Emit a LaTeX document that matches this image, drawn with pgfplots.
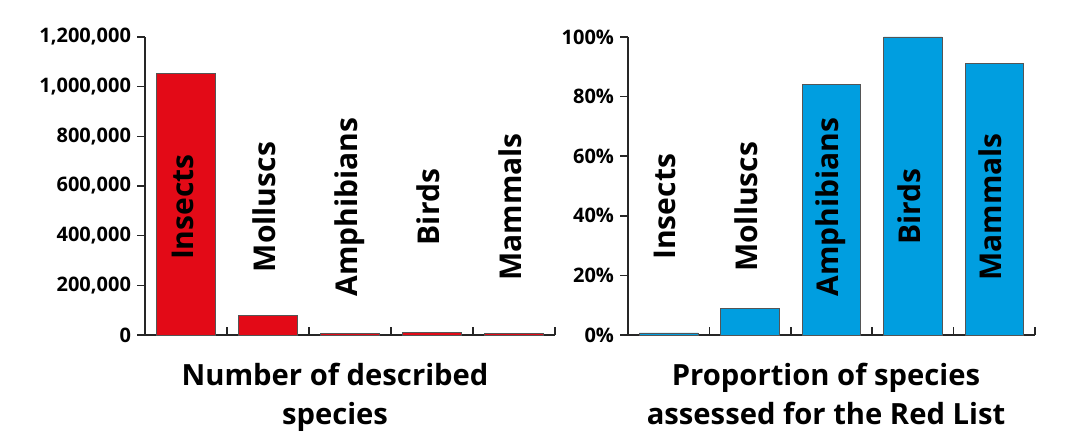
\documentclass[border=0pt]{standalone}
\usepackage{fontspec}
\setmainfont{Open Sans}
\usepackage{pgfplots}
\pgfplotsset{compat=1.18}
\definecolor{redc}{HTML}{E30A17}
\definecolor{bluec}{HTML}{009EE0}
\definecolor{edgec}{HTML}{555555}
\tikzset{
  catlab/.style={rotate=90, font=\bfseries\fontsize{15}{18}\selectfont, text height=0.72em, text depth=0pt, inner sep=0pt},
  ttl/.style={anchor=base, font=\bfseries\fontsize{14.6}{16}\selectfont, inner sep=0pt},
}
\pgfplotsset{
  mybar/.style={
    scale only axis,
    height=149pt,
    ymin=0,
    xmin=-0.5, xmax=4.5,
    axis lines=left,
    axis line style={-, line width=0.8pt, color=black!85},
    xtick={0.5,1.5,2.5,3.5,4.5},
    xticklabels={},
    xtick align=inside,
    ytick align=outside,
    major tick length=4pt,
    tick style={line width=0.8pt, color=black!85},
    ticklabel style={font=\bfseries\fontsize{10}{12}\selectfont},
    yticklabel style={xshift=0.5pt},
    scaled y ticks=false,
    clip=false,
  },
}
\begin{document}
\begin{tikzpicture}
\useasboundingbox (0,0) rectangle (540pt,219.5pt);
\begin{axis}[mybar,
  at={(72.5pt,52pt)}, anchor=south west,
  width=205pt,
  ymax=1200000,
  ytick={0,200000,400000,600000,800000,1000000,1200000},
  yticklabels={0,{200,000},{400,000},{600,000},{800,000},{1,000,000},{1,200,000}},
]
\addplot[ybar, bar width=0.72, fill=redc, draw=edgec, line width=0.4pt]
  coordinates {(0,1053000) (1,77000) (2,7000) (3,10000) (4,5500)};
\node[catlab] at (axis cs:0,515000) {Insects};
\node[catlab] at (axis cs:1,515000) {Molluscs};
\node[catlab] at (axis cs:2,515000) {Amphibians};
\node[catlab] at (axis cs:3,515000) {Birds};
\node[catlab] at (axis cs:4,515000) {Mammals};
\end{axis}
\begin{axis}[mybar,
  at={(314pt,52pt)}, anchor=south west,
  width=203.5pt,
  ymax=100,
  ytick={0,20,40,60,80,100},
  yticklabels={0\%,20\%,40\%,60\%,80\%,100\%},
]
\addplot[ybar, bar width=0.72, fill=bluec, draw=edgec, line width=0.4pt]
  coordinates {(0,0.7) (1,8.8) (2,84) (3,100) (4,91)};
\node[catlab] at (axis cs:0,43) {Insects};
\node[catlab] at (axis cs:1,43) {Molluscs};
\node[catlab] at (axis cs:2,43) {Amphibians};
\node[catlab] at (axis cs:3,43) {Birds};
\node[catlab] at (axis cs:4,43) {Mammals};
\end{axis}
\node[ttl] at (167.5pt,27pt) {Number of described};
\node[ttl] at (167.5pt,7.5pt) {species};
\node[ttl] at (413pt,27pt) {Proportion of species};
\node[ttl] at (413pt,7.5pt) {assessed for the Red List};
\end{tikzpicture}
\end{document}
